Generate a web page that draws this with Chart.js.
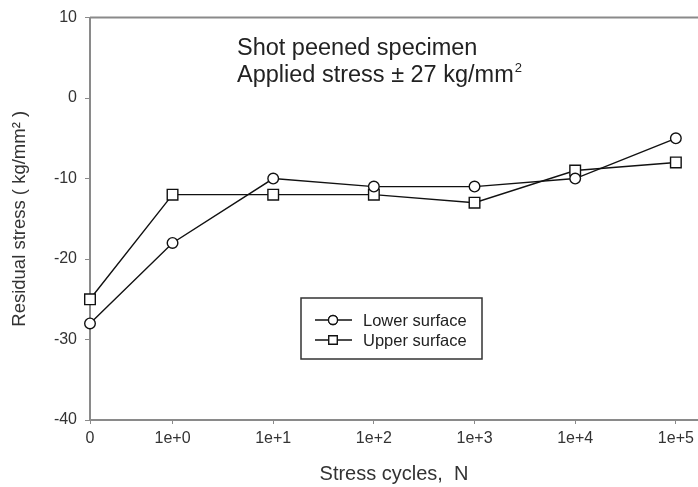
<!DOCTYPE html>
<html>
<head>
<meta charset="utf-8">
<script src="https://cdn.jsdelivr.net/npm/chart.js@4"></script>
<style>
  body { margin: 0; background: #fff; }
  #wrap { width: 698px; height: 487px; }
</style>
</head>
<body>
<div id="wrap"><canvas id="c" width="698" height="487"></canvas></div>
<script>
// x axis is broken: "0" sits a bit closer to 1e+0 than the decades do
const cycleLabels = ['0', '1e+0', '1e+1', '1e+2', '1e+3', '1e+4', '1e+5'];
const cyclePos = [-0.82, 0, 1, 2, 3, 4, 5];
const lowerSurface = [-28, -18, -10, -11, -11, -10, -5];
const upperSurface = [-25, -12, -12, -12, -13, -9, -8];
const yTicks = [-40, -30, -20, -10, 0, 10];

const FONT = '"Liberation Sans", Arial, sans-serif';
const AXIS = '#8a8a8a';

const toPoints = vals => vals.map((y, i) => ({ x: cyclePos[i], y }));

const extras = {
  id: 'extras',
  afterDraw(chart) {
    const { ctx, chartArea: a } = chart;
    ctx.save();
    // top frame line
    ctx.strokeStyle = AXIS;
    ctx.lineWidth = 2;
    ctx.beginPath();
    ctx.moveTo(a.left, a.top);
    ctx.lineTo(a.right, a.top);
    ctx.stroke();

    // annotation
    ctx.fillStyle = '#222';
    ctx.font = '23.5px ' + FONT;
    ctx.textBaseline = 'alphabetic';
    ctx.fillText('Shot peened specimen', 237, 55);
    const line2 = 'Applied stress \u00b1 27 kg/mm';
    ctx.fillText(line2, 237, 82);
    const w = ctx.measureText(line2).width;
    ctx.font = '13px ' + FONT;
    ctx.fillText('2', 237 + w + 1, 72);

    // legend box
    const bx = 301, by = 298, bw = 181, bh = 61;
    ctx.strokeStyle = '#333';
    ctx.lineWidth = 1.5;
    ctx.strokeRect(bx, by, bw, bh);
    chart.data.datasets.forEach((ds, i) => {
      const y = by + 22 + i * 20;
      ctx.strokeStyle = '#111';
      ctx.lineWidth = 1.3;
      ctx.beginPath();
      ctx.moveTo(bx + 14, y);
      ctx.lineTo(bx + 51, y);
      ctx.stroke();
      Chart.helpers.drawPoint(ctx, {
        pointStyle: ds.pointStyle, radius: ds.pointStyle === 'rect' ? 6 : 4.5,
        borderWidth: 1.3, rotation: 0
      }, bx + 32, y);
      ctx.fillStyle = '#fff';
      ctx.fill();
      ctx.stroke();
      ctx.fillStyle = '#222';
      ctx.font = '16.5px ' + FONT;
      ctx.textBaseline = 'middle';
      ctx.fillText(ds.label, bx + 62, y + 1);
    });
    ctx.restore();
  }
};

new Chart(document.getElementById('c'), {
  type: 'line',
  data: {
    datasets: [
      {
        label: 'Lower surface',
        data: toPoints(lowerSurface),
        pointStyle: 'circle',
        pointRadius: 5.3
      },
      {
        label: 'Upper surface',
        data: toPoints(upperSurface),
        pointStyle: 'rect',
        pointRadius: 7.5
      }
    ].map(d => Object.assign(d, {
      borderColor: '#111',
      borderWidth: 1.4,
      pointBackgroundColor: '#fff',
      pointBorderColor: '#111',
      pointBorderWidth: 1.4,
      tension: 0,
      clip: false
    }))
  },
  options: {
    responsive: false,
    animation: false,
    layout: { autoPadding: false, padding: { top: 16, right: 0, left: 0, bottom: 0 } },
    plugins: { legend: { display: false }, tooltip: { enabled: false } },
    scales: {
      x: {
        type: 'linear',
        min: -0.82,
        max: 5.22,
        afterBuildTicks: s => { s.ticks = cyclePos.map(v => ({ value: v })); },
        afterFit: s => { s.height = 67; s.paddingLeft = 0; s.paddingRight = 0; },
        grid: { drawOnChartArea: false, drawTicks: true, tickLength: 4, color: AXIS },
        border: { color: AXIS, width: 2 },
        ticks: {
          autoSkip: false, maxRotation: 0, padding: 5,
          color: '#333', font: { family: FONT, size: 16 },
          callback: (v, i) => cycleLabels[i]
        },
        title: {
          display: true, text: 'Stress cycles,  N', color: '#333',
          font: { family: FONT, size: 20 }, padding: { top: 0, bottom: 1 }
        }
      },
      y: {
        min: -40,
        max: 10,
        afterBuildTicks: s => { s.ticks = yTicks.map(v => ({ value: v })); },
        afterFit: s => { s.width = 90; },
        grid: { drawOnChartArea: false, drawTicks: true, tickLength: 5, color: AXIS },
        border: { color: AXIS, width: 2 },
        ticks: { color: '#333', font: { family: FONT, size: 16 }, padding: 8 },
        title: {
          display: true, text: 'Residual stress ( kg/mm\u00b2 )', color: '#333',
          font: { family: FONT, size: 18.5 }, padding: { top: 9, bottom: 0 }
        }
      }
    }
  },
  plugins: [extras]
});
</script>
</body>
</html>
